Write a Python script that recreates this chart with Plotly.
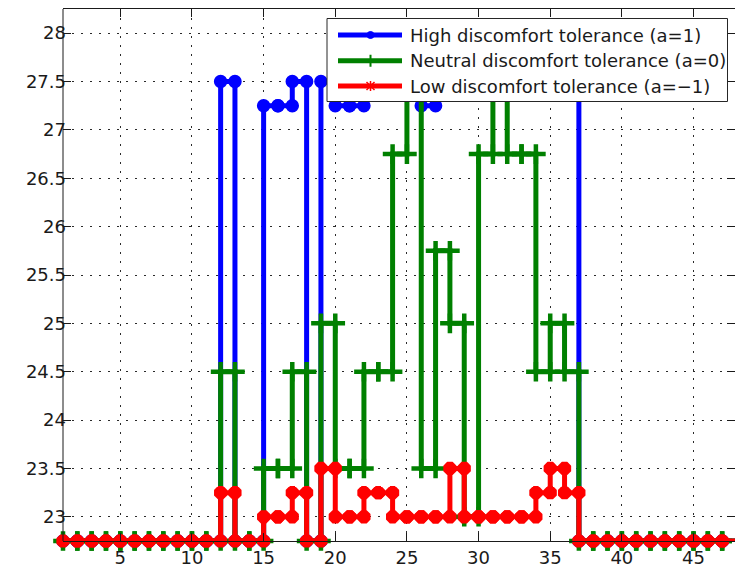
import plotly.graph_objects as go

# Hourly set-points for three discomfort-tolerance settings (stair profile)
hours = list(range(1, 49))

high_tol = [22.75, 22.75, 22.75, 22.75, 22.75, 22.75, 22.75, 22.75, 22.75, 22.75, 22.75,
            27.5, 22.75, 22.75, 27.25, 27.25, 27.5, 22.75, 27.5, 27.25, 27.25, 27.5,
            27.5, 27.5, 27.5, 27.25, 27.5, 27.5, 27.5, 27.5, 27.5, 27.5, 27.5, 27.5,
            27.5, 27.5,
            22.75, 22.75, 22.75, 22.75, 22.75, 22.75, 22.75, 22.75, 22.75, 22.75, 22.75, 22.75]

neutral_tol = [22.75, 22.75, 22.75, 22.75, 22.75, 22.75, 22.75, 22.75, 22.75, 22.75, 22.75,
               24.5, 22.75, 22.75, 23.5, 23.5, 24.5, 22.75, 25.0, 23.5, 23.5, 24.5,
               24.5, 26.75, 27.5, 23.5, 25.75, 25.0, 23.0, 26.75, 27.5, 26.75, 26.75, 24.5,
               25.0, 24.5,
               22.75, 22.75, 22.75, 22.75, 22.75, 22.75, 22.75, 22.75, 22.75, 22.75, 22.75, 22.75]

low_tol = [22.75, 22.75, 22.75, 22.75, 22.75, 22.75, 22.75, 22.75, 22.75, 22.75, 22.75,
           23.25, 22.75, 22.75, 23.0, 23.0, 23.25, 22.75, 23.5, 23.0, 23.0, 23.25,
           23.25, 23.0, 23.0, 23.0, 23.0, 23.5, 23.0, 23.0, 23.0, 23.0, 23.0, 23.25,
           23.5, 23.25,
           22.75, 22.75, 22.75, 22.75, 22.75, 22.75, 22.75, 22.75, 22.75, 22.75, 22.75, 22.75]

series_names = ["High discomfort tolerance (a=1)",
                "Neutral discomfort tolerance (a=0)",
                "Low discomfort tolerance (a=\u22121)"]

x_ticks = [5, 10, 15, 20, 25, 30, 35, 40, 45]
y_ticks = [23, 23.5, 24, 24.5, 25, 25.5, 26, 26.5, 27, 27.5, 28]
y_tick_text = ["23", "23.5", "24", "24.5", "25", "25.5", "26", "26.5", "27", "27.5", "28"]

# ---- figure geometry ----
W, H = 735, 569
ML, MR, MT, MB = 63, 0, 9, 28
PW, PH = W - ML - MR, H - MT - MB
PX_PER_HOUR = 14.33
X_RANGE = [1, 1 + PW / PX_PER_HOUR]
Y_RANGE = [22.75, 28.25]

FONT = "DejaVu Sans"
TEXT_COLOR = "#1a1a1a"
BLUE, GREEN, RED = "#0000ff", "#008000", "#ff0000"


def stairs(x, y):
    """Vertices of a stair-step curve: each value is held until the next x."""
    xs, ys = [], []
    for i in range(len(x) - 1):
        xs += [x[i], x[i + 1]]
        ys += [y[i], y[i]]
    xs.append(x[-1])
    ys.append(y[-1])
    return xs, ys


fig = go.Figure()

styles = [
    (high_tol, BLUE, dict(symbol="circle", size=12, color=BLUE, line=dict(color=BLUE, width=1.5))),
    (neutral_tol, GREEN, dict(symbol="cross-thin-open", size=14, color=GREEN, line=dict(color=GREEN, width=4.5))),
    (low_tol, RED, dict(symbol="asterisk-open", size=11, color=RED, line=dict(color=RED, width=5.5))),
]
for name, (vals, col, mk) in zip(series_names, styles):
    sx, sy = stairs(hours, vals)
    fig.add_trace(go.Scatter(x=sx, y=sy, mode="lines+markers", name=name,
                             line=dict(color=col, width=5),
                             marker=mk, cliponaxis=False, showlegend=False))

grid = dict(showgrid=True, gridcolor="#2a2a2a", gridwidth=1, griddash="2px,7px",
            zeroline=False, ticks="inside", ticklen=8, tickcolor="#1a1a1a", tickwidth=1,
            tickfont=dict(family=FONT, size=18, color=TEXT_COLOR), mirror="ticks")

fig.update_layout(
    width=W, height=H,
    margin=dict(l=ML, r=MR, t=MT, b=MB, pad=0),
    paper_bgcolor="white", plot_bgcolor="white",
    xaxis=dict(range=X_RANGE, tickvals=x_ticks, showline=True, linecolor="#1a1a1a",
               linewidth=1, **grid),
    yaxis=dict(range=Y_RANGE, tickvals=y_ticks, ticktext=y_tick_text, showline=False,
               ticklabelstandoff=-4, **grid),
)

# left frame edge (the right one lies just past the visible area)
fig.add_shape(type="line", xref="paper", yref="paper", x0=0, x1=0, y0=0, y1=1,
              line=dict(color="#1a1a1a", width=1), layer="above")


# ---- legend box ----
def px_x(px):
    return (px - ML) / PW


def px_y(py):
    return (H - MB - py) / PH


LEG_L, LEG_R, LEG_T, LEG_B = 327, 727.5, 18.5, 101.5
ROWS = [35, 60.7, 86]
SAMPLE_X0, SAMPLE_X1, SAMPLE_MID, TEXT_X = 338, 402, 370.5, 408

fig.add_shape(type="rect", xref="paper", yref="paper",
              x0=px_x(LEG_L), x1=px_x(LEG_R), y0=px_y(LEG_B), y1=px_y(LEG_T),
              fillcolor="white", line=dict(color="#262626", width=1), layer="above")

for (vals, col, mk), name, row in zip(styles, series_names, ROWS):
    fig.add_shape(type="line", xref="paper", yref="paper",
                  x0=px_x(SAMPLE_X0), x1=px_x(SAMPLE_X1), y0=px_y(row), y1=px_y(row),
                  line=dict(color=col, width=5), layer="above")
    fig.add_annotation(x=px_x(TEXT_X), y=px_y(row), xref="paper", yref="paper",
                       text=name, showarrow=False, xanchor="left", yanchor="middle",
                       font=dict(family=FONT, size=18, color=TEXT_COLOR))

anchor = dict(xref="paper", yref="paper", xsizemode="pixel", ysizemode="pixel",
              xanchor=px_x(SAMPLE_MID), layer="above")
# small circle marker
fig.add_shape(type="circle", yanchor=px_y(ROWS[0]), x0=-3.5, x1=3.5, y0=-3.5, y1=3.5,
              fillcolor=BLUE, line=dict(color=BLUE, width=1), **anchor)
# plus marker
fig.add_shape(type="path", yanchor=px_y(ROWS[1]), path="M0,-6 L0,6 M-4,0 L4,0",
              line=dict(color=GREEN, width=2), **anchor)
# asterisk marker
fig.add_shape(type="path", yanchor=px_y(ROWS[2]),
              path="M-4,-4 L4,4 M-4,4 L4,-4 M0,-5 L0,5",
              line=dict(color=RED, width=1.5), **anchor)

fig.write_html("out.html")
